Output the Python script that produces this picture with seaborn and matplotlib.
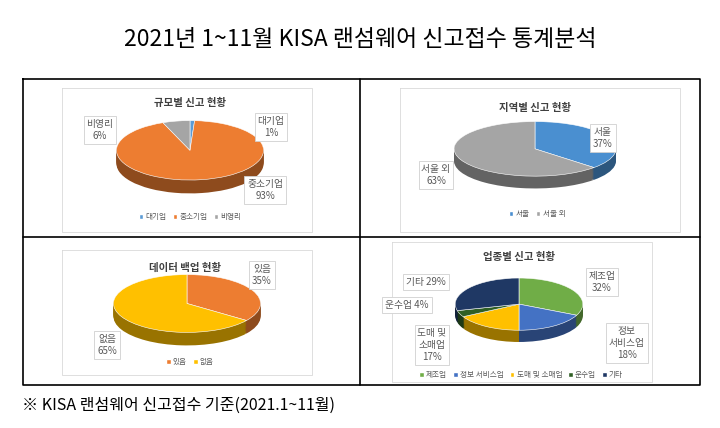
import matplotlib
matplotlib.use("Agg")
import matplotlib.pyplot as plt
import seaborn as sns
import numpy as np
from matplotlib.patches import Patch
from matplotlib.lines import Line2D
from matplotlib.colors import to_rgb

sns.set_theme(style="white")
plt.rcParams['font.family'] = ['Noto Sans CJK KR', 'DejaVu Sans']

size_labels = ["대기업", "중소기업", "비영리"]
size_values = [1, 93, 6]
region_labels = ["서울", "서울 외"]
region_values = [37, 63]
backup_labels = ["있음", "없음"]
backup_values = [35, 65]
industry_labels = ["제조업", "정보 서비스업", "도매 및 소매업", "운수업", "기타"]
industry_values = [32, 18, 17, 4, 29]

W, H = 720, 428
fig = plt.figure(figsize=(7.2, 4.28), dpi=100)
fig.patch.set_facecolor("white")

def fx(x): return x / W
def fy(y): return 1 - y / H

def box(x0, y0, x1, y1, **kw):
    fig.add_artist(Line2D([fx(x0), fx(x1), fx(x1), fx(x0), fx(x0)],
                          [fy(y0), fy(y0), fy(y1), fy(y1), fy(y0)], **kw))

box(23, 79, 700, 385, color="black", lw=1.2)
fig.add_artist(Line2D([fx(360), fx(360)], [fy(79), fy(385)], color="black", lw=1.2))
fig.add_artist(Line2D([fx(23), fx(700)], [fy(237), fy(237)], color="black", lw=1.2))
box(62, 88, 312, 232, color="#d9d9d9", lw=0.6)
box(400, 88, 680, 232, color="#d9d9d9", lw=0.6)
box(62, 250, 312, 375, color="#d9d9d9", lw=0.6)
box(392, 242, 652, 382, color="#d9d9d9", lw=0.6)

def dark(c, f=0.6):
    return tuple(v * f for v in to_rgb(c))

def pie3d(cx, cy, w, h, vals, colors):
    ax = fig.add_axes([fx(cx - w / 2), fy(cy + h / 2 + 10), w / W, (h + 10) / H])
    depth = 0.45
    for k in np.linspace(depth, 0.02, 12):
        ax.pie(vals, colors=[dark(c) for c in colors], startangle=90,
               counterclock=False, center=(0, -k), radius=1,
               wedgeprops=dict(linewidth=0))
    ax.pie(vals, colors=colors, startangle=90, counterclock=False,
           center=(0, 0), radius=1, wedgeprops=dict(linewidth=0.4, edgecolor="white"))
    ax.set_aspect("auto")
    ax.set_xlim(-1.02, 1.02)
    ax.set_ylim(-1.02 - depth, 1.02)
    ax.axis("off")

c_size = ["#5B9BD5", "#ED7D31", "#A5A5A5"]
c_region = ["#4A8FD0", "#A5A5A5"]
c_backup = ["#ED7D31", "#FFC000"]
c_ind = ["#70AD47", "#4472C4", "#FFC000", "#2F5F24", "#1F3864"]

pie3d(190, 152, 150, 64, size_values, c_size)
pie3d(535, 150, 165, 58, region_values, c_region)
pie3d(187, 305, 150, 62, backup_values, c_backup)
pie3d(519, 305, 130, 55, industry_values, c_ind)

def t(x, y, s, size=7, bold=False, boxed=False, color="#595959"):
    kw = {}
    if boxed:
        kw["bbox"] = dict(boxstyle="square,pad=0.3", fc="white", ec="#d0d0d0", lw=0.6)
    fig.text(fx(x), fy(y), s, ha="center", va="center", fontsize=size,
             fontweight="bold" if bold else "normal", color=color,
             linespacing=1.3, **kw)

t(360, 40, "2021년 1~11월 KISA 랜섬웨어 신고접수 통계분석", size=16.5, color="black")
fig.text(fx(22), fy(405), "※ KISA 랜섬웨어 신고접수 기준(2021.1~11월)", ha="left",
         va="center", fontsize=11.5, color="black")

t(190, 103, "규모별 신고 현황", 7.5, bold=True, color="#404040")
t(100, 130, "비영리\n6%", boxed=True)
t(271, 127, "대기업\n1%", boxed=True)
t(265, 190, "중소기업\n93%", boxed=True)

t(535, 108, "지역별 신고 현황", 7.5, bold=True, color="#404040")
t(603, 138, "서울\n37%", boxed=True)
t(436, 175, "서울 외\n63%", boxed=True)

t(185, 268, "데이터 백업 현황", 7.5, bold=True, color="#404040")
t(262, 275, "있음\n35%", boxed=True)
t(107, 345, "없음\n65%", boxed=True)

t(519, 257, "업종별 신고 현황", 7.5, bold=True, color="#404040")
t(602, 282, "제조업\n32%", boxed=True)
t(627, 343, "정보\n서비스업\n18%", boxed=True)
t(432, 345, "도매 및\n소매업\n17%", boxed=True)
t(407, 305, "운수업 4%", boxed=True)
t(426, 282, "기타 29%", boxed=True)

def legend(x, y, labels, colors):
    handles = [Patch(facecolor=c, label=l) for l, c in zip(labels, colors)]
    fig.legend(handles=handles, loc="center", bbox_to_anchor=(fx(x), fy(y)),
               ncol=len(labels), frameon=False, fontsize=5.5, handlelength=0.6,
               handleheight=0.6, handletextpad=0.3, columnspacing=0.8,
               labelcolor="#595959")

legend(190, 217, size_labels, c_size)
legend(537, 214, region_labels, c_region)
legend(190, 362, backup_labels, c_backup)
legend(521, 375, industry_labels, c_ind)

fig.savefig("out.png", dpi=100, facecolor="white")
